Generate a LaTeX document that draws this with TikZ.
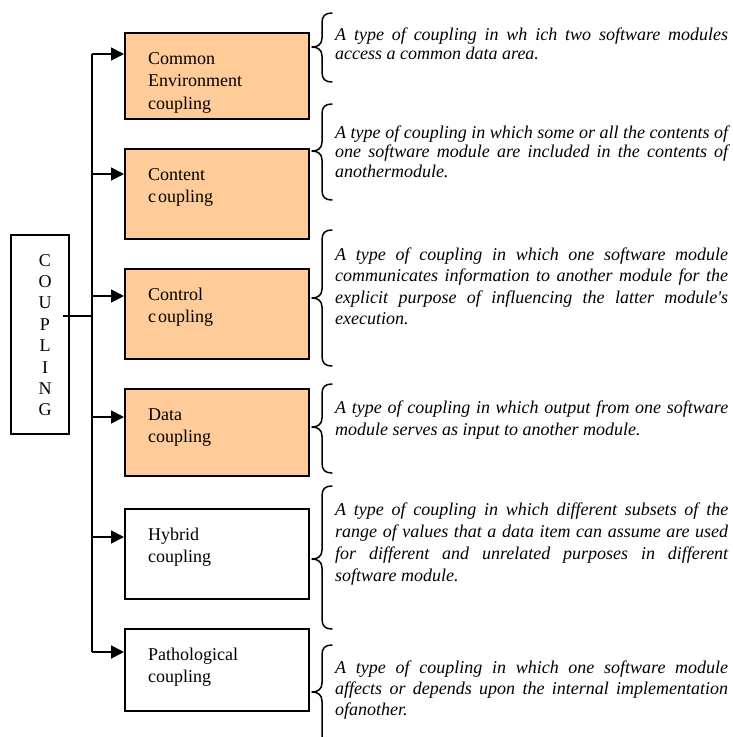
\documentclass[tikz,border=0pt]{standalone}
\usepackage{fontspec}
\setmainfont{Liberation Serif}
\usetikzlibrary{arrows.meta,calc}
\definecolor{peach}{RGB}{255,204,153}
\tolerance=9999
\hbadness=10000
\hyphenpenalty=10000
% curly brace opening to the right: top, tip and bottom y positions
\newcommand{\sidebrace}[3]{%
  \draw[bracestyle] (332,#1) .. controls (325,#1) and (322,#1+3) .. (322,#1+10)
    -- (322,#2-9) .. controls (322,#2-3) and (318,#2) .. (312,#2)
    .. controls (318,#2) and (322,#2+3) .. (322,#2+9)
    -- (322,#3-10) .. controls (322,#3-3) and (325,#3) .. (332,#3);}
\begin{document}
\begin{tikzpicture}[x=1pt,y=-1pt,
  frame/.style={draw=black,line width=1.8pt,rectangle,minimum width=184pt,anchor=north west,inner sep=0pt},
  filled/.style={frame,fill=peach},
  boxtext/.style={anchor=base west,inner sep=0pt,text width=155pt,align=left,font=\fontsize{18}{22.5}\selectfont},
  desc/.style={anchor=base west,inner sep=0pt,text width=393pt,align=justify,font=\fontsize{18}{21.5}\selectfont\itshape},
  conn/.style={line width=1.8pt},
  arr/.style={conn,-{Triangle[length=13pt,width=13pt]}},
  bracestyle/.style={line width=1.5pt,line cap=round,line join=round}
]
\useasboundingbox (0,0) rectangle (733,737);

% root box with vertical lettering
\node[draw=black,line width=1.8pt,minimum width=58pt,minimum height=199pt,anchor=north west,inner sep=0pt] (root) at (10,234) {};
\node[anchor=base,inner sep=0pt,text width=20pt,align=center,font=\fontsize{18}{21.4}\selectfont] (letters) at (45,266) {C\\O\\U\\P\\L\\I\\N\\G};

% category boxes
\node[filled,minimum height=86pt] (b1) at (124,32) {};
\node[filled,minimum height=90pt] (b2) at (124,148) {};
\node[filled,minimum height=90pt] (b3) at (124,268) {};
\node[filled,minimum height=87pt] (b4) at (124,388) {};
\node[frame,minimum height=90pt] (b5) at (124,508) {};
\node[frame,minimum height=82pt] (b6) at (124,628) {};

\node[boxtext] (t1) at (148,64) {Common\\Environment\\coupling};
\node[boxtext] (t2) at (148,180) {Content\\c\kern2pt oupling};
\node[boxtext] (t3) at (148,300) {Control\\c\kern2pt oupling};
\node[boxtext] (t4) at (148,420) {Data\\coupling};
\node[boxtext] (t5) at (148,540) {Hybrid\\coupling};
\node[boxtext] (t6) at (148,660) {Pathological\\coupling};

% trunk and branches
\coordinate (j1) at (92,54);
\coordinate (j2) at (92,174);
\coordinate (j3) at (92,296);
\coordinate (j4) at (92,417);
\coordinate (j5) at (92,537);
\coordinate (j6) at (92,652);
\coordinate (stub) at (63,316);
\draw[conn] (j1) -- (j6);
\draw[conn] (stub) -- (stub -| j1);
\draw[arr] (j1) -- (j1 -| b1.west);
\draw[arr] (j2) -- (j2 -| b2.west);
\draw[arr] (j3) -- (j3 -| b3.west);
\draw[arr] (j4) -- (j4 -| b4.west);
\draw[arr] (j5) -- (j5 -| b5.west);
\draw[arr] (j6) -- (j6 -| b6.west);

% braces
\sidebrace{13}{47}{82}
\sidebrace{104}{151}{200}
\sidebrace{230}{298}{366}
\sidebrace{384}{427}{473}
\sidebrace{486}{559}{629}
\sidebrace{645}{692}{745}

% descriptions
\node[desc,font=\fontsize{18}{19}\selectfont\itshape] (d1) at (335,40) {A type of coupling in wh ich two software modules\linebreak access a common data area.};
\node[desc,font=\fontsize{18}{19.5}\selectfont\itshape] (d2) at (335,138) {A type of coupling in which some or all the contents of\linebreak one software module are included in the contents of\linebreak anothermodule.};
\node[desc] (d3) at (335,260) {A type of coupling in which one software module\linebreak communicates information to another module for the\linebreak explicit purpose of influencing the latter module\textquotesingle s\linebreak execution.};
\node[desc,font=\fontsize{18}{22}\selectfont\itshape] (d4) at (335,413) {A type of coupling in which output from one software\linebreak module serves as input to another module.};
\node[desc,font=\fontsize{18}{22.3}\selectfont\itshape] (d5) at (335,515) {A type of coupling in which different subsets of the\linebreak range of values that a data item can assume are used\linebreak for different and unrelated purposes in different\linebreak software module.};
\node[desc,font=\fontsize{18}{21}\selectfont\itshape] (d6) at (335,673) {A type of coupling in which one software module\linebreak affects or depends upon the internal implementation\linebreak ofanother.};
\end{tikzpicture}
\end{document}
